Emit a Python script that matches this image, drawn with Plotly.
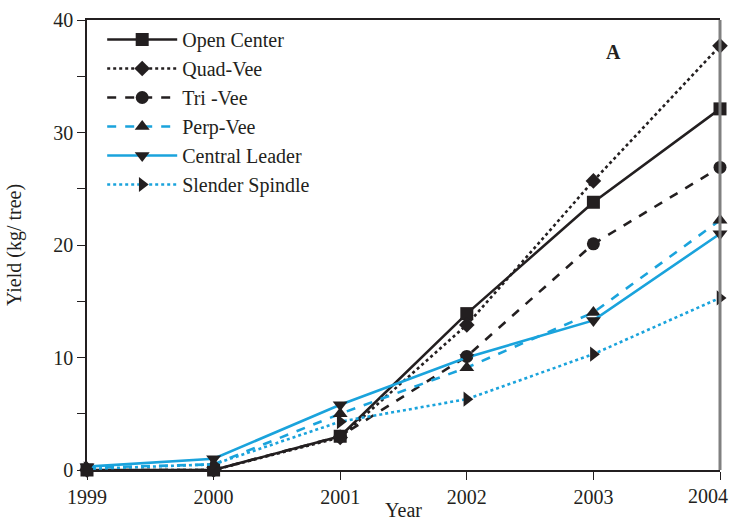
import plotly.graph_objects as go

years = [1999, 2000, 2001, 2002, 2003, 2004]
year_labels = ["1999", "2000", "2001", "2002", "2003", ""]
last_year_label = "2004"

open_center = [0.0, 0.0, 3.0, 13.9, 23.8, 32.1]
quad_vee = [0.0, 0.0, 2.9, 12.9, 25.7, 37.7]
tri_vee = [0.0, 0.0, 3.0, 10.1, 20.1, 26.9]
perp_vee = [0.2, 0.5, 5.0, 9.1, 14.0, 22.2]
central_leader = [0.3, 1.0, 5.8, 10.0, 13.3, 21.0]
slender_spindle = [0.1, 0.5, 4.3, 6.3, 10.3, 15.3]

BLACK = "#231f20"
BLUE = "#1aa3dc"

series = [
    ("Open Center", open_center, BLACK, "solid", "square"),
    ("Quad-Vee", quad_vee, BLACK, "dot", "diamond"),
    ("Tri -Vee", tri_vee, BLACK, "dash", "circle"),
    ("Perp-Vee", perp_vee, BLUE, "dash", "triangle-up"),
    ("Central Leader", central_leader, BLUE, "solid", "triangle-down"),
    ("Slender Spindle", slender_spindle, BLUE, "dot", "triangle-right"),
]

FONT = "Liberation Serif"

fig = go.Figure()
for name, vals, color, dash, sym in series:
    fig.add_trace(go.Scatter(
        x=years, y=vals, name=name, mode="lines+markers",
        line=dict(color=color, width=2.6, dash=dash),
        marker=dict(symbol=sym, size=13 if sym != "diamond" else 12, color=BLACK),
        cliponaxis=False,
    ))

fig.update_layout(
    width=730, height=521,
    margin=dict(l=87, r=10, t=20, b=51),
    plot_bgcolor="white", paper_bgcolor="white",
    font=dict(family=FONT, size=20, color="#231f20"),
    showlegend=True,
    legend=dict(
        x=0.024, y=1.0, xanchor="left", yanchor="top",
        bgcolor="rgba(0,0,0,0)", borderwidth=0,
        font=dict(family=FONT, size=20),
        itemwidth=70, tracegroupgap=0,
    ),
    xaxis=dict(
        range=[1999, 2004], tickvals=years, ticktext=year_labels,
        ticks="outside", ticklen=8, tickwidth=1, tickcolor=BLACK,
        ticklabeloverflow="allow", automargin=False,
        showline=True, linecolor=BLACK, linewidth=1.5, mirror=True,
        showgrid=False, zeroline=False,
        title=dict(text="Year", standoff=0, font=dict(size=20)),
    ),
    yaxis=dict(
        range=[0, 40], tickvals=[0, 10, 20, 30, 40],
        ticks="outside", ticklen=8, tickwidth=1, tickcolor=BLACK,
        minor=dict(tickvals=[5, 15, 25, 35], ticks="outside", ticklen=8, tickcolor=BLACK),
        automargin=False,
        showline=True, linecolor=BLACK, linewidth=1.5, mirror=False,
        showgrid=False, zeroline=False,
        title=dict(text="Yield (kg/ tree)", standoff=26, font=dict(size=20)),
    ),
    shapes=[dict(type="line", xref="paper", yref="paper", x0=1, x1=1, y0=0, y1=1,
                 line=dict(color="#808080", width=3))],
    annotations=[
        dict(text="<b>A</b>", x=0.831, y=0.929, xref="paper", yref="paper",
             xanchor="center", yanchor="middle",
             showarrow=False, font=dict(family=FONT, size=20, color=BLACK)),
        dict(text=last_year_label, x=years[-1], y=0, xref="x", yref="paper",
             xanchor="right", yanchor="top", xshift=10, yshift=-13,
             showarrow=False, font=dict(family=FONT, size=20, color="#231f20")),
    ],
)

fig.write_html("out.html", config={"displayModeBar": False},
               post_script="document.body.style.margin='0';")
